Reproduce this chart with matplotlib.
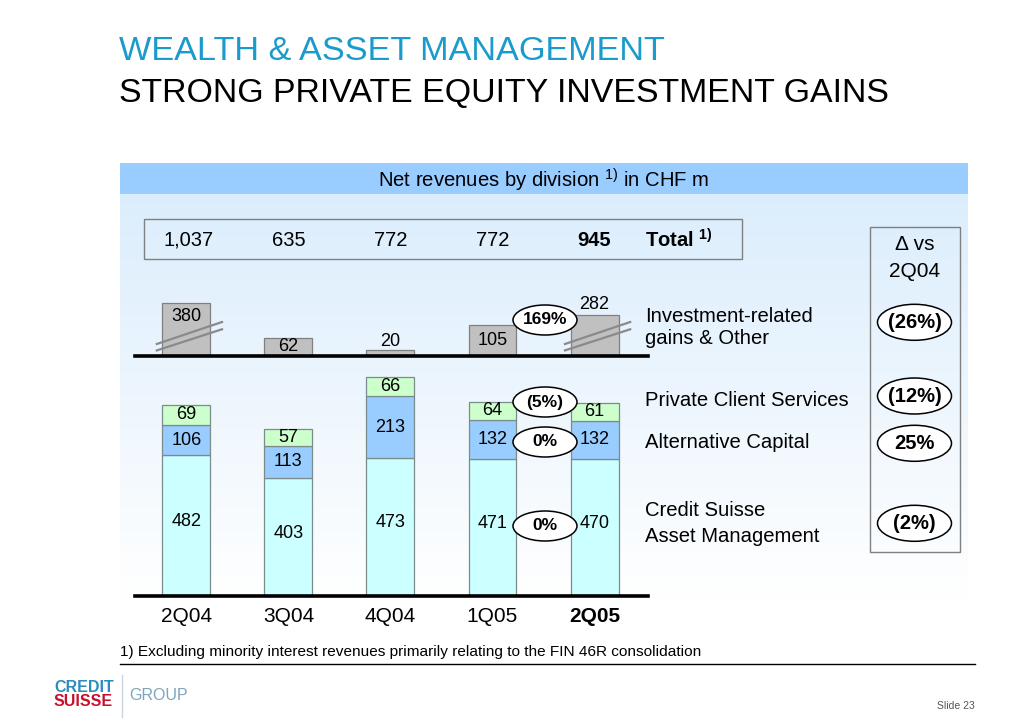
import matplotlib
matplotlib.use('Agg')
import matplotlib.pyplot as plt
import numpy as np
from matplotlib.patches import Rectangle, Ellipse
from matplotlib.transforms import blended_transform_factory

plt.rcParams['font.family'] = ['Liberation Sans', 'DejaVu Sans']
plt.rcParams['mathtext.fontset'] = 'custom'
plt.rcParams['mathtext.rm'] = 'Liberation Sans'
plt.rcParams['mathtext.bf'] = 'Liberation Sans:bold'
plt.rcParams['mathtext.it'] = 'Liberation Sans:italic'

# ---------------- data ----------------
quarters = ['2Q04', '3Q04', '4Q04', '1Q05', '2Q05']
csam = [482, 403, 473, 471, 470]
alt_capital = [106, 113, 213, 132, 132]
pcs = [69, 57, 66, 64, 61]
inv_gains = [380, 62, 20, 105, 282]
totals = [1037, 635, 772, 772, 945]
# change 2Q05 vs 1Q05: investment gains, PCS, alternative capital, CSAM
qoq_change = ['169%', '(5%)', '0%', '0%']
# change 2Q05 vs 2Q04 (same order)
yoy_change = ['(26%)', '(12%)', '25%', '(2%)']
division_lines = [['Investment-related', 'gains & Other'],
                  ['Private Client Services'],
                  ['Alternative Capital'],
                  ['Credit Suisse', 'Asset Management']]
inv_broken = [True, False, False, False, True]

# ---------------- style ----------------
C_CSAM = '#CCFFFF'
C_AC = '#99CCFF'
C_PCS = '#CCFFCC'
C_INV = '#C0C0C0'
EDGE = '#7A8C8C'
W, H = 1030, 728

fig = plt.figure(figsize=(W / 100, H / 100), dpi=100)
fig.patch.set_facecolor('white')


def frac_rect(left, top, right, bottom):
    return [left / W, 1 - bottom / H, (right - left) / W, (bottom - top) / H]


# background / overlay axes in pixel coordinates
ax_bg = fig.add_axes([0, 0, 1, 1], zorder=0)
ax_bg.axis('off')
grad = np.linspace(0, 1, 256)
top_c = np.array([0.86, 0.93, 0.99])
img = top_c[None, :] * (1 - grad[:, None]) + np.ones(3)[None, :] * grad[:, None]
img = img[:, None, :]
ax_bg.imshow(img, extent=(120, 968, 600, 194.3), aspect='auto', origin='upper')
ax_bg.add_patch(Rectangle((120, 162.7), 847.7, 31.6, facecolor='#99CCFF', edgecolor='none'))
ax_bg.set_xlim(0, W)
ax_bg.set_ylim(H, 0)

ax_fg = fig.add_axes([0, 0, 1, 1], zorder=3)
ax_fg.axis('off')
ax_fg.set_facecolor('none')
ax_fg.set_xlim(0, W)
ax_fg.set_ylim(H, 0)

# titles
ax_fg.text(119, 51, 'WEALTH & ASSET MANAGEMENT', color='#1A9BCB', fontsize=24.7,
           ha='left', va='center')
ax_fg.text(119, 94, 'STRONG PRIVATE EQUITY INVESTMENT GAINS', color='black', fontsize=24.4,
           ha='left', va='center')
ax_fg.text(544, 180, r'Net revenues by division $^{1)}$ in CHF m', fontsize=14.6,
           ha='center', va='center', color='black')

# totals box and right box
ax_fg.add_patch(Rectangle((144.3, 219.3), 597.4, 40, facecolor='none', edgecolor='#808080', lw=1))
ax_fg.add_patch(Rectangle((870, 227.3), 90, 324.4, facecolor='none', edgecolor='#808080', lw=1))
ax_fg.text(915, 244.3, '\u0394 vs', fontsize=15, ha='center', va='center')
ax_fg.text(915, 271.7, '2Q04', fontsize=15, ha='center', va='center')

# ---------------- chart axes ----------------
x = np.arange(len(quarters))
XL = (-0.503, 4.519)
PX_PER_UNIT = 0.291
low_base, up_base = 595.7, 355.7
low_top = low_base - 800 * PX_PER_UNIT
up_top = up_base - 200 * PX_PER_UNIT

ax_low = fig.add_axes(frac_rect(135, low_top, 647.5, low_base), zorder=1)
ax_up = fig.add_axes(frac_rect(135, up_top, 647.5, up_base), zorder=1)
for a, yl in ((ax_low, 800), (ax_up, 200)):
    a.set_xlim(*XL)
    a.set_ylim(0, yl)
    a.set_facecolor('none')
    a.axis('off')
    a.axhline(0, color='black', lw=2.6, zorder=5, clip_on=False)

bw = 0.47
b1 = np.array(csam)
b2 = b1 + np.array(alt_capital)
ax_low.bar(x, csam, bw, color=C_CSAM, edgecolor=EDGE, lw=0.9, zorder=2)
ax_low.bar(x, alt_capital, bw, bottom=b1, color=C_AC, edgecolor=EDGE, lw=0.9, zorder=2)
ax_low.bar(x, pcs, bw, bottom=b2, color=C_PCS, edgecolor=EDGE, lw=0.9, zorder=2)

lab_kw = dict(fontsize=13, ha='center', va='center', color='black', zorder=6)
for i in x:
    ax_low.text(i, csam[i] * 0.53, str(csam[i]), **lab_kw)
    ax_low.text(i, b1[i] + alt_capital[i] / 2, str(alt_capital[i]), **lab_kw)
    ax_low.text(i, b2[i] + pcs[i] / 2, str(pcs[i]), **lab_kw)

# investment gains with axis break for the large bars
BREAK_BASE, BREAK_SCALE = 25, 0.41
inv_drawn = [BREAK_BASE + BREAK_SCALE * v if br else v for v, br in zip(inv_gains, inv_broken)]
ax_up.bar(x, inv_drawn, bw, color=C_INV, edgecolor='#808080', lw=0.9, zorder=2)
inv_label_mode = ['in_top', 'in', 'above', 'in', 'above']
for i in x:
    mode = inv_label_mode[i]
    if mode == 'in':
        ax_up.text(i, inv_drawn[i] / 2, str(inv_gains[i]), **lab_kw)
    elif mode == 'in_top':
        ax_up.text(i, inv_drawn[i] - 46, str(inv_gains[i]), **lab_kw)
    else:
        off = 6 if inv_broken[i] else -1
        ax_up.text(i, inv_drawn[i] + off, str(inv_gains[i]), fontsize=13, ha='center',
                   va='bottom', zorder=6, clip_on=False)
    if inv_broken[i]:
        for y0, y1 in ((39, 117), (17, 92)):
            ax_up.plot([i - 0.30, i + 0.36], [y0, y1], color='#8A8A8A', lw=1.6,
                       clip_on=False, zorder=4, solid_capstyle='butt')

# tick labels and totals row
tr = blended_transform_factory(ax_low.transData, ax_fg.transData)
for i, q in enumerate(quarters):
    bold = (i == len(quarters) - 1)
    ax_fg.text(i, 616.7, q, transform=tr, fontsize=15, ha='center', va='center',
               fontweight='bold' if bold else 'normal')
    ax_fg.text(i + (0.02 if i == 0 else 0), 240, f'{totals[i]:,}', transform=tr, fontsize=14.5,
               ha='center', va='center', fontweight='bold' if bold else 'normal')
ax_fg.text(645, 240, r'Total $^{\mathbf{1)}}$', fontsize=14.5, fontweight='bold',
           ha='left', va='center')

# division labels
label_rows = [[316.7, 339.0], [401.0], [443.0], [510.0, 537.0]]
for lines, ys in zip(division_lines, label_rows):
    for t, yy in zip(lines, ys):
        ax_fg.text(645, yy, t, fontsize=14.6, ha='left', va='center')

# growth ellipses (2Q05 vs 1Q05)
mid_y = [320, 402, 442, 526]
for t, yy in zip(qoq_change, mid_y):
    ax_fg.add_patch(Ellipse((545, yy), 64, 30, facecolor='white', edgecolor='black', lw=1.1))
    ax_fg.text(545, yy, t, fontsize=12.5, fontweight='bold', ha='center', va='center')

# growth ellipses (2Q05 vs 2Q04)
right_y = [322.3, 396, 443.3, 523.3]
for t, yy in zip(yoy_change, right_y):
    ax_fg.add_patch(Ellipse((914.5, yy), 74, 36, facecolor='white', edgecolor='black', lw=1.1))
    ax_fg.text(914.5, yy, t, fontsize=14.5, fontweight='bold', ha='center', va='center')

# footnote
ax_fg.text(120, 652, '1) Excluding minority interest revenues primarily relating to the FIN 46R consolidation',
           fontsize=11.1, ha='left', va='center')
ax_fg.plot([120, 975], [664, 664], color='black', lw=1)

# logo
ax_fg.text(54, 687, 'CREDIT', fontsize=11.5, fontweight='bold', color='#2A8DBE', ha='left', va='center')
ax_fg.text(54, 701.5, 'SUISSE', fontsize=11.5, fontweight='bold', color='#C8102E', ha='left', va='center')
ax_fg.plot([121.7, 121.7], [675, 717], color='#C8D3DC', lw=1)
ax_fg.text(129, 695, 'GROUP', fontsize=11.5, color='#7FA5BD', ha='left', va='center')
ax_fg.text(975, 706, 'Slide 23', fontsize=7.5, color='#555555', ha='right', va='center')

fig.savefig('out.png', dpi=100, facecolor='white')
